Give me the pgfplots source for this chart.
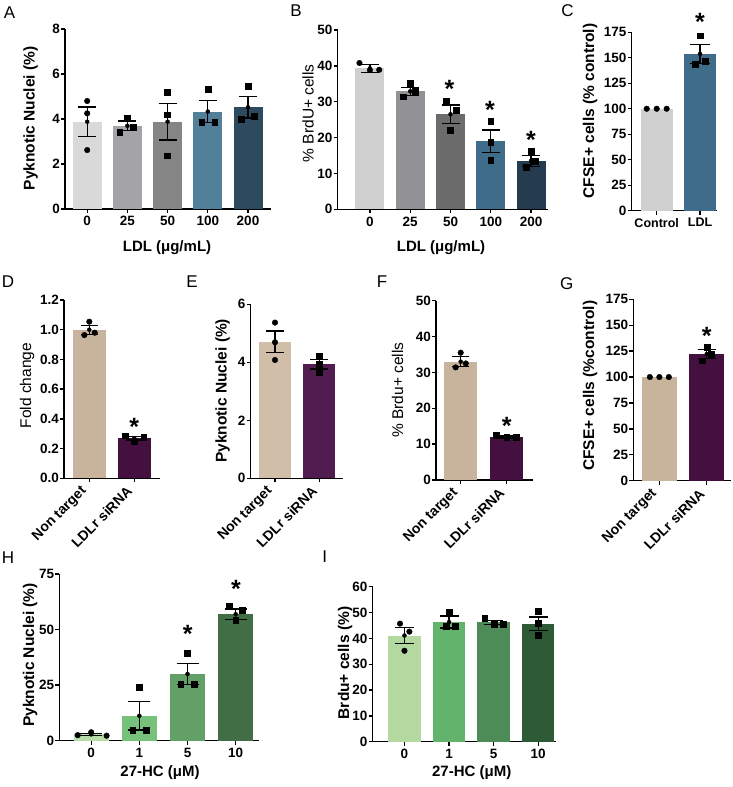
\documentclass[border=0pt]{standalone}
\usepackage{fontspec}
\setmainfont{Liberation Sans}
\usepackage{pgfplots}
\pgfplotsset{compat=1.18}
\definecolor{a0}{HTML}{D9D9D9}\definecolor{a1}{HTML}{A3A3A8}\definecolor{a2}{HTML}{858585}\definecolor{a3}{HTML}{52809A}\definecolor{a4}{HTML}{2E4A5E}
\definecolor{b0}{HTML}{D0D0D0}\definecolor{b1}{HTML}{919196}\definecolor{b2}{HTML}{6C6C6C}\definecolor{b3}{HTML}{3F6C88}\definecolor{b4}{HTML}{253C50}
\definecolor{tan}{HTML}{C8B49C}\definecolor{tanl}{HTML}{D0BEA8}\definecolor{purp}{HTML}{43103F}\definecolor{purpl}{HTML}{511D50}
\definecolor{h0}{HTML}{B7DCA8}\definecolor{h1}{HTML}{76C27B}\definecolor{h2}{HTML}{62A068}\definecolor{h3}{HTML}{426E46}
\definecolor{i0}{HTML}{B3D9A1}\definecolor{i1}{HTML}{62B46C}\definecolor{i2}{HTML}{4E8C57}\definecolor{i3}{HTML}{2E5B36}
\newcommand{\B}[4]{\addplot[ybar,bar width=#4,bar shift=0pt,fill=#3,draw=none] coordinates {(#1,#2)};}
\pgfplotsset{
  panel/.style={scale only axis, anchor=south west,
    axis x line=bottom, axis y line=left,
    axis line style={-, line width=1.4pt},
    tick style={line width=1.3pt, black},
    tick align=outside, major tick length=4pt,
    tick label style={font=\fontsize{13.5}{15}\selectfont\bfseries},
    yticklabel style={inner sep=1pt},
    /pgf/number format/assume math mode=true,
    clip=false, ymin=0},
  rotlab/.style={xticklabel style={xshift=-4pt, yshift=-6pt, rotate=45, anchor=east, font=\fontsize{14}{15}\selectfont\bfseries, inner sep=1pt}},
  eb/.style={only marks, mark=none, black, error bars/.cd, y dir=both, y explicit, error mark=|,
    error bar style={line width=1.3pt}, error mark options={line width=1.3pt, mark size=#1}},
  eb/.default=9pt,
  circ/.style={only marks, mark=*, mark size=2.8pt, black},
  sq/.style={only marks, mark=square*, mark size=2.9pt, black},
}
\tikzset{ylab/.style={rotate=90, font=\fontsize{15.5}{17}\selectfont\bfseries},
  ylabr/.style={rotate=90, font=\fontsize{15.5}{17}\selectfont},
  xlab/.style={font=\fontsize{15}{17}\selectfont\bfseries},
  plab/.style={font=\fontsize{17}{19}\selectfont},
  star/.style={anchor=north, inner sep=0pt, font=\fontsize{25}{27}\selectfont\bfseries}}
\begin{document}
\begin{tikzpicture}
\useasboundingbox (0,0) rectangle (732pt,787pt);
% ---------- A ----------
\begin{axis}[panel, at={(65pt,578pt)}, width=206pt, height=180pt,
  xmin=-0.552, xmax=4.572, ymax=8, ytick={0,2,...,8}, xtick={0,...,4}, xticklabels={0,25,50,100,200}]
\B{0}{3.88}{a0}{29pt}\B{1}{3.70}{a1}{29pt}\B{2}{3.88}{a2}{29pt}\B{3}{4.33}{a3}{29pt}\B{4}{4.52}{a4}{29pt}
\addplot[eb] coordinates {(0,3.88)+-(0,0.65) (1,3.70)+-(0,0.21) (2,3.88)+-(0,0.82) (3,4.33)+-(0,0.50) (4,4.52)+-(0,0.48)};
\addplot[circ] coordinates {(0,4.8)(0,4.25)(0,2.62)};
\addplot[sq] coordinates {(1,4.03)(0.81,3.41)(1.14,3.64) (2,5.19)(2,4.19)(2,2.37) (3,5.32)(2.85,3.84)(3.17,3.84) (4,5.47)(3.83,3.98)(4.15,4.12)};
\end{axis}
% ---------- B ----------
\begin{axis}[panel, at={(337.7pt,577.7pt)}, width=210.3pt, height=179.3pt,
  xmin=-0.80, xmax=4.42, ymax=50, ytick={0,10,...,50}, xtick={0,...,4}, xticklabels={0,25,50,100,200}]
\B{0}{39.3}{b0}{29pt}\B{1}{32.9}{b1}{29pt}\B{2}{26.5}{b2}{29pt}\B{3}{19.0}{b3}{29pt}\B{4}{13.5}{b4}{29pt}
\addplot[eb] coordinates {(0,39.3)+-(0,1.1) (1,32.9)+-(0,1.1) (2,26.5)+-(0,2.6) (3,19.0)+-(0,3.1) (4,13.5)+-(0,1.5)};
\addplot[circ] coordinates {(-0.26,40.8)(0,38.8)(0.23,38.9)};
\addplot[sq] coordinates {(1,35.2)(0.83,31.4)(1.12,33.0) (1.89,30.3)(2.14,27.7)(2,22.1) (3,24.6)(3,18.8)(3,13.7) (4,16.2)(4.1,13.4)(3.88,11.7)};
\end{axis}
% ---------- C ----------
\begin{axis}[panel, at={(631.7pt,576.3pt)}, width=85pt, height=178.4pt,
  xmin=-0.577, xmax=1.385, ymax=175, ytick={0,25,...,175}, xtick={0,1}, xticklabels={Control,LDL},
  xticklabel style={font=\fontsize{12.5}{14}\selectfont\bfseries}]
\B{0}{100}{b0}{32.3pt}\B{1}{153.8}{b3}{32.3pt}
\addplot[eb=10pt] coordinates {(1,153.8)+-(0,9.2)};
\addplot[circ] coordinates {(-0.23,100)(0,100)(0.23,100)};
\addplot[sq] coordinates {(1,171.7)(0.88,144)(1.12,147)};
\end{axis}
% ---------- D ----------
\begin{axis}[panel, rotlab, at={(64pt,308.7pt)}, width=96pt, height=178.3pt,
  xmin=-0.562, xmax=1.571, ymax=1.2, ytick={0,0.2,...,1.2}, xtick={0,1}, xticklabels={Non target,LDLr siRNA},
  yticklabel style={/pgf/number format/.cd, fixed, fixed zerofill, precision=1}]
\B{0}{1.0}{tan}{32.7pt}\B{1}{0.27}{purp}{32.7pt}
\addplot[eb=8.5pt] coordinates {(0,1.0)+-(0,0.03) (1,0.27)+-(0,0.013)};
\addplot[circ] coordinates {(0,1.054)(-0.11,0.964)(0.12,0.98)};
\addplot[sq] coordinates {(0.8,0.287)(1,0.246)(1.21,0.278)};
\end{axis}
% ---------- E ----------
\begin{axis}[panel, rotlab, at={(250.7pt,308.7pt)}, width=92.6pt, height=174pt,
  xmin=-0.549, xmax=1.542, ymax=6, ytick={0,2,4,6}, xtick={0,1}, xticklabels={Non target,LDLr siRNA}]
\B{0}{4.71}{tanl}{32pt}\B{1}{3.93}{purpl}{32pt}
\addplot[eb=9pt] coordinates {(0,4.71)+-(0,0.37) (1,3.93)+-(0,0.16)};
\addplot[circ] coordinates {(0,5.37)(0,4.69)(0,4.08)};
\addplot[sq] coordinates {(1,4.22)(1,3.94)(1,3.66)};
\end{axis}
% ---------- F ----------
\begin{axis}[panel, rotlab, at={(436pt,307pt)}, width=96.7pt, height=179.3pt,
  xmin=-0.537, xmax=1.565, ymax=50, ytick={0,10,...,50}, xtick={0,1}, xticklabels={Non target,LDLr siRNA}]
\B{0}{33.0}{tan}{33.3pt}\B{1}{12.0}{purp}{33.3pt}
\addplot[eb=8.5pt] coordinates {(0,33.0)+-(0,1.4) (1,12.0)+-(0,0.3)};
\addplot[circ] coordinates {(0,35.5)(-0.11,31.4)(0.11,32.5)};
\addplot[sq] coordinates {(0.78,12.6)(1,11.9)(1.2,11.9)};
\end{axis}
% ---------- G ----------
\begin{axis}[panel, rotlab, at={(633.3pt,306.3pt)}, width=97.7pt, height=181.4pt,
  xmin=-0.549, xmax=1.51, ymax=175, ytick={0,25,...,175}, xtick={0,1}, xticklabels={Non target,LDLr siRNA}]
\B{0}{100}{tan}{35pt}\B{1}{122.2}{purp}{35pt}
\addplot[eb=9pt] coordinates {(1,122.2)+-(0,4.6)};
\addplot[circ] coordinates {(-0.2,100)(0,100)(0.2,100)};
\addplot[sq] coordinates {(1,128.8)(0.91,115.8)(1.1,122)};
\end{axis}
% ---------- H ----------
\begin{axis}[panel, at={(59.3pt,46.3pt)}, width=200pt, height=166.7pt,
  xmin=-0.662, xmax=3.49, ymax=75, ytick={0,25,50,75}, xtick={0,...,3}, xticklabels={0,1,5,10}]
\B{0}{2.85}{h0}{35pt}\B{1}{11.2}{h1}{35pt}\B{2}{30.0}{h2}{35pt}\B{3}{56.9}{h3}{35pt}
\addplot[eb=11pt] coordinates {(0,2.85)+-(0,0.5) (1,11.2)+-(0,6.4) (2,30.0)+-(0,4.7) (3,56.9)+-(0,2.4)};
\addplot[circ] coordinates {(-0.28,2.5)(0,3.8)(0.32,2.25)};
\addplot[sq] coordinates {(1,24)(0.86,4.8)(1.14,4.8) (2,39.5)(1.86,25.4)(2.14,25.4) (2.865,60.6)(3.14,58.7)(3,54.3)};
\end{axis}
% ---------- I ----------
\begin{axis}[panel, at={(372.7pt,45.3pt)}, width=183.3pt, height=155pt,
  xmin=-0.713, xmax=3.40, ymax=60, ytick={0,10,...,60}, xtick={0,...,3}, xticklabels={0,1,5,10}]
\B{0}{41.1}{i0}{32.3pt}\B{1}{46.3}{i1}{32.3pt}\B{2}{46.2}{i2}{32.3pt}\B{3}{45.7}{i3}{32.3pt}
\addplot[eb=9.5pt] coordinates {(0,41.1)+-(0,3.2) (1,46.3)+-(0,2.3) (2,46.2)+-(0,0.8) (3,45.7)+-(0,2.6)};
\addplot[circ] coordinates {(-0.1,45.7)(0.11,42.6)(0,35.2)};
\addplot[sq] coordinates {(1,50.2)(0.93,44.6)(1.13,44.7) (1.8,47.8)(2.02,45.5)(2.22,45.5) (3,50.6)(3,45.8)(3,41.3)};
\end{axis}
% ---------- labels ----------
\node[ylab] at (30.5pt,668.7pt) {Pyknotic Nuclei (\%)};
\node[ylabr] at (308pt,673.7pt) {\% BrdU+ cells};
\node[ylab] at (590pt,676pt) {CFSE+ cells (\% control)};
\node[ylabr] at (27pt,401.3pt) {Fold change};
\node[ylab] at (222.5pt,396.2pt) {Pyknotic Nuclei (\%)};
\node[ylabr] at (397.5pt,397pt) {\% Brdu+ cells};
\node[ylab] at (590pt,401.2pt) {CFSE+ cells (\%control)};
\node[ylab] at (30pt,132pt) {Pyknotic Nuclei (\%)};
\node[ylab] at (345pt,124pt) {Brdu+ cells (\%)};
\node[xlab] at (167pt,539pt) {LDL (μg/mL)};
\node[xlab] at (441pt,539pt) {LDL (μg/mL)};
\node[xlab] at (160pt,14pt) {27-HC (μM)};
\node[xlab] at (471.7pt,14pt) {27-HC (μM)};
\node[plab] at (9.5pt,774.5pt) {A};
\node[plab] at (296pt,776pt) {B};
\node[plab] at (567.5pt,776pt) {C};
\node[plab] at (8pt,505.3pt) {D};
\node[plab] at (192pt,505pt) {E};
\node[plab] at (382pt,505pt) {F};
\node[plab] at (566.7pt,503pt) {G};
\node[plab] at (8pt,229pt) {H};
\node[plab] at (324.7pt,230.3pt) {I};
\node[star] at (449.5pt,707pt) {*};
\node[star] at (490pt,686pt) {*};
\node[star] at (531pt,656pt) {*};
\node[star] at (700pt,773.7pt) {*};
\node[star] at (134.3pt,369pt) {*};
\node[star] at (506.7pt,370pt) {*};
\node[star] at (706.7pt,460pt) {*};
\node[star] at (187.7pt,162pt) {*};
\node[star] at (236pt,207pt) {*};
\end{tikzpicture}
\end{document}
